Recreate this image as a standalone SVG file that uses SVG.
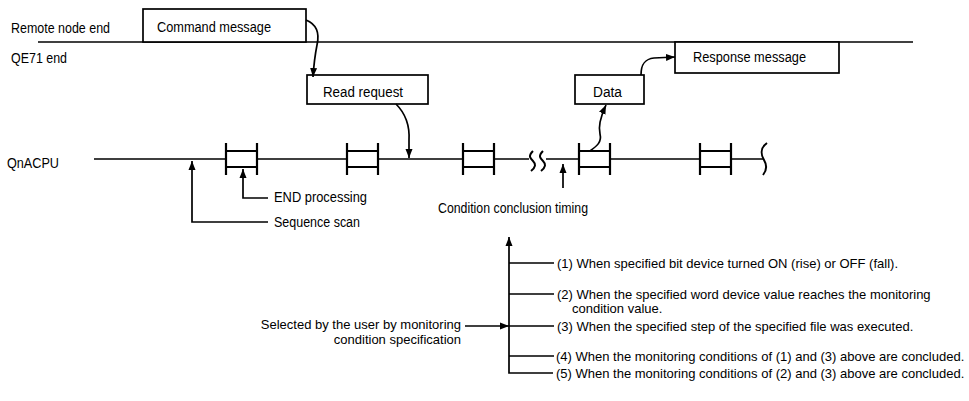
<svg xmlns="http://www.w3.org/2000/svg" xmlns:xlink="http://www.w3.org/1999/xlink" width="969" height="401" viewBox="0 0 969 401">
<style>
text{font-family:"Liberation Sans",Arial,sans-serif;font-size:14px;fill:#000}
.sm{font-size:13px}
.box{fill:#fff;stroke:#000;stroke-width:1.7}
.ln{fill:none;stroke:#000;stroke-width:1.6}
.sq{fill:none;stroke:#000;stroke-width:2}
.blk{fill:none;stroke:#000;stroke-width:2.2}
.con{fill:none;stroke:#000;stroke-width:1.7}
</style>
<defs>
<marker id="ah" markerUnits="userSpaceOnUse" markerWidth="10" markerHeight="8" refX="9" refY="4" orient="auto">
<path d="M0,0.5 L9,4 L0,7.5 z" fill="#000"/>
</marker>
<g id="endblk"><path d="M0,-16 V16 M31,-16 V16 M0,-8 H31 M0,8 H31"/></g>
</defs>
<rect width="969" height="401" fill="#fff"/>

<g id="timeline-labels">
<text x="11" y="33" textLength="99" lengthAdjust="spacingAndGlyphs">Remote node end</text>
<text x="11" y="63" textLength="56" lengthAdjust="spacingAndGlyphs">QE71 end</text>
<text x="7" y="168" textLength="52" lengthAdjust="spacingAndGlyphs">QnACPU</text>
</g>

<g id="network-line">
<path class="ln" d="M38,42 H913"/>
</g>

<g id="cpu-line">
<path class="ln" d="M94,159 H226 M257,159 H347 M379,159 H463 M495,159 H529 M546,159 H579 M611,159 H700 M732,159 H764"/>
<path class="sq" d="M533,151 C528,156 530,158 533,161 C536,164 536,167 531,171"/>
<path class="sq" d="M543,151 C538,156 540,158 543,161 C546,164 546,167 541,171"/>
<path class="sq" d="M767,143 C760,148 761,155 764,160 C767,165 767,170 763,175"/>
</g>

<g id="end-blocks" class="blk">
<use href="#endblk" x="226" y="159"/>
<use href="#endblk" x="347" y="159"/>
<use href="#endblk" x="463" y="159"/>
<use href="#endblk" x="579" y="159"/>
<use href="#endblk" x="700" y="159"/>
</g>

<g id="command-message">
<rect class="box" x="143" y="9" width="163" height="33"/>
<text x="157" y="32" textLength="114" lengthAdjust="spacingAndGlyphs">Command message</text>
</g>

<g id="read-request">
<rect class="box" x="307" y="75" width="121" height="29"/>
<text x="323" y="97" textLength="80" lengthAdjust="spacingAndGlyphs">Read request</text>
</g>

<g id="data">
<rect class="box" x="575" y="75" width="69" height="29"/>
<text x="593" y="97" textLength="29" lengthAdjust="spacingAndGlyphs">Data</text>
</g>

<g id="response-message">
<rect class="box" x="675" y="42" width="164" height="31"/>
<text x="693" y="62" textLength="113" lengthAdjust="spacingAndGlyphs">Response message</text>
</g>

<g id="annotations">
<text x="274" y="202" textLength="93" lengthAdjust="spacingAndGlyphs">END processing</text>
<text x="274" y="227" textLength="86" lengthAdjust="spacingAndGlyphs">Sequence scan</text>
<text x="438" y="213" textLength="150" lengthAdjust="spacingAndGlyphs">Condition conclusion timing</text>
<text class="sm" x="461" y="329" text-anchor="end">Selected by the user by monitoring</text>
<text class="sm" x="461" y="344" text-anchor="end">condition specification</text>
</g>

<g id="conditions">
<text class="sm" x="557" y="268">(1) When specified bit device turned ON (rise) or OFF (fall).</text>
<text class="sm" x="557" y="299">(2) When the specified word device value reaches the monitoring</text>
<text class="sm" x="572" y="313">condition value.</text>
<text class="sm" x="557" y="331">(3) When the specified step of the specified file was executed.</text>
<text class="sm" x="556" y="361">(4) When the monitoring conditions of (1) and (3) above are concluded.</text>
<text class="sm" x="556" y="378">(5) When the monitoring conditions of (2) and (3) above are concluded.</text>
</g>

<g id="connectors">
<path class="con" marker-end="url(#ah)" d="M306,20 C316,24 320,32 317,45 C315,55 314,62 313,77"/>
<path class="con" marker-end="url(#ah)" d="M396,104 C404,112 410,122 409,140 L409,158"/>
<path class="con" marker-end="url(#ah)" d="M590,151 C597,146 602,142 600,134 C598,126 600,118 606,105"/>
<path class="con" marker-end="url(#ah)" d="M641,75 C641,65 644,59 654,58 L675,57"/>
<path class="con" marker-end="url(#ah)" d="M268,198 H243 V169"/>
<path class="con" marker-end="url(#ah)" d="M268,222 H192 V161"/>
<path class="con" marker-end="url(#ah)" d="M563,188 V164"/>
<path class="con" marker-end="url(#ah)" d="M553,373 H509 V237"/>
<path class="con" d="M509,263 H554 M509,294 H554 M509,326 H554 M509,356 H554"/>
<path class="con" marker-end="url(#ah)" d="M465,326 H509"/>
</g>
</svg>
